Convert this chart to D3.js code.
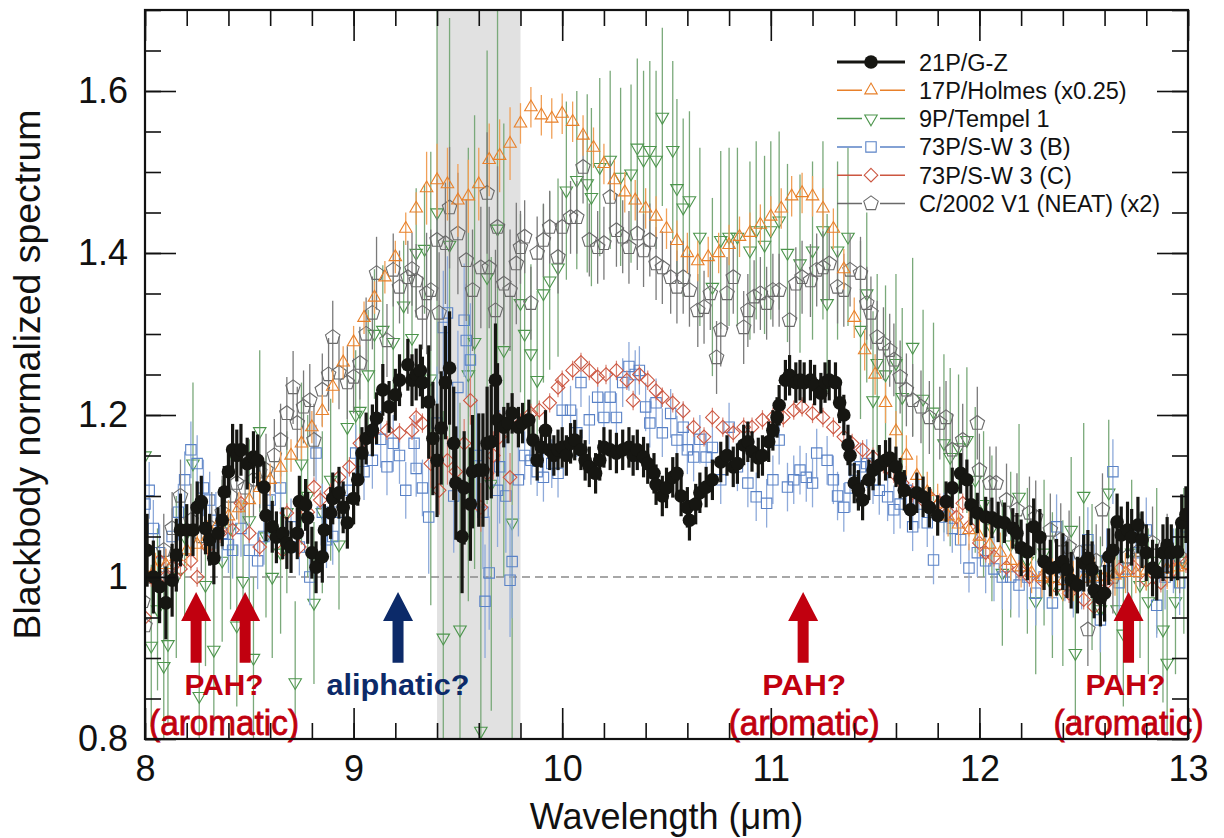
<!DOCTYPE html>
<html>
<head>
<meta charset="utf-8">
<script src="https://cdn.jsdelivr.net/npm/d3@7"></script>
<style>
  html, body { margin: 0; background: #fff; }
  svg { display: block; }
</style>
</head>
<body>
<div id="chart"></div>
<script>
// spectra: [wavelength (um), blackbody-normalized flux]
const gz21 = [[8.01,1.033],[8.04,1.000],[8.07,0.988],[8.10,0.968],[8.13,0.996],[8.15,1.027],[8.17,1.058],[8.20,1.058],[8.23,1.058],[8.25,1.086],[8.27,1.093],[8.29,1.060],[8.31,1.046],[8.33,1.023],[8.35,1.054],[8.37,1.070],[8.38,1.105],[8.40,1.130],[8.42,1.157],[8.44,1.150],[8.46,1.157],[8.49,1.140],[8.52,1.148],[8.54,1.144],[8.57,1.111],[8.58,1.076],[8.61,1.062],[8.63,1.049],[8.66,1.054],[8.68,1.042],[8.70,1.037],[8.73,1.054],[8.74,1.093],[8.77,1.089],[8.78,1.073],[8.80,1.030],[8.82,1.012],[8.85,1.025],[8.86,1.058],[8.89,1.079],[8.90,1.097],[8.93,1.104],[8.95,1.086],[8.97,1.067],[9.00,1.097],[9.02,1.120],[9.04,1.153],[9.06,1.171],[9.09,1.181],[9.11,1.196],[9.14,1.231],[9.17,1.210],[9.20,1.225],[9.22,1.243],[9.26,1.262],[9.28,1.243],[9.30,1.250],[9.32,1.255],[9.33,1.240],[9.36,1.216],[9.38,1.171],[9.40,1.144],[9.42,1.184],[9.44,1.240],[9.46,1.258],[9.48,1.165],[9.49,1.116],[9.52,1.050],[9.53,1.110],[9.56,1.090],[9.57,1.130],[9.60,1.132],[9.62,1.132],[9.64,1.165],[9.66,1.167],[9.68,1.243],[9.69,1.194],[9.72,1.185],[9.74,1.190],[9.76,1.202],[9.79,1.185],[9.81,1.190],[9.84,1.194],[9.86,1.169],[9.88,1.144],[9.90,1.160],[9.92,1.181],[9.94,1.157],[9.96,1.150],[9.98,1.157],[10.00,1.160],[10.02,1.150],[10.04,1.165],[10.06,1.169],[10.09,1.157],[10.11,1.144],[10.13,1.136],[10.16,1.128],[10.18,1.144],[10.20,1.160],[10.23,1.157],[10.26,1.153],[10.29,1.157],[10.32,1.160],[10.34,1.150],[10.36,1.157],[10.39,1.148],[10.41,1.140],[10.44,1.128],[10.45,1.114],[10.48,1.100],[10.50,1.110],[10.53,1.123],[10.55,1.128],[10.57,1.100],[10.60,1.086],[10.61,1.070],[10.64,1.090],[10.66,1.104],[10.69,1.111],[10.72,1.120],[10.76,1.142],[10.79,1.150],[10.82,1.136],[10.84,1.140],[10.87,1.163],[10.89,1.167],[10.91,1.155],[10.94,1.147],[10.96,1.150],[10.99,1.167],[11.01,1.181],[11.03,1.197],[11.04,1.212],[11.07,1.243],[11.09,1.249],[11.12,1.240],[11.14,1.243],[11.16,1.240],[11.19,1.243],[11.21,1.237],[11.24,1.227],[11.26,1.240],[11.28,1.243],[11.31,1.240],[11.33,1.215],[11.35,1.200],[11.37,1.163],[11.38,1.150],[11.40,1.116],[11.42,1.107],[11.44,1.095],[11.47,1.120],[11.49,1.132],[11.52,1.138],[11.55,1.144],[11.57,1.147],[11.60,1.136],[11.62,1.122],[11.64,1.107],[11.67,1.083],[11.70,1.104],[11.73,1.099],[11.76,1.086],[11.80,1.076],[11.84,1.093],[11.87,1.110],[11.91,1.128],[11.94,1.120],[11.96,1.089],[11.99,1.079],[12.03,1.074],[12.06,1.073],[12.09,1.068],[12.12,1.067],[12.16,1.060],[12.18,1.054],[12.20,1.036],[12.23,1.031],[12.26,1.062],[12.29,1.049],[12.31,1.019],[12.34,1.011],[12.37,1.012],[12.40,1.019],[12.42,1.009],[12.44,0.996],[12.47,0.990],[12.50,1.017],[12.52,1.023],[12.54,1.009],[12.55,0.984],[12.58,0.974],[12.60,0.980],[12.62,1.025],[12.64,1.033],[12.66,1.068],[12.68,1.052],[12.71,1.058],[12.73,1.049],[12.76,1.064],[12.78,1.046],[12.80,1.030],[12.83,1.011],[12.85,1.006],[12.88,1.030],[12.90,1.039],[12.92,1.030],[12.95,1.031],[12.97,1.067],[12.99,1.077]];

const holmes17 = [[8.00,1.005],[8.05,1.010],[8.10,1.015],[8.15,1.025],[8.20,1.033],[8.25,1.040],[8.30,1.050],[8.35,1.065],[8.40,1.075],[8.45,1.085],[8.50,1.095],[8.55,1.110],[8.60,1.120],[8.65,1.135],[8.70,1.150],[8.75,1.165],[8.80,1.185],[8.85,1.205],[8.90,1.235],[8.95,1.265],[9.00,1.290],[9.05,1.320],[9.10,1.345],[9.15,1.370],[9.20,1.395],[9.25,1.430],[9.30,1.455],[9.35,1.480],[9.40,1.490],[9.45,1.485],[9.50,1.465],[9.55,1.470],[9.60,1.485],[9.65,1.515],[9.70,1.520],[9.75,1.535],[9.80,1.560],[9.85,1.580],[9.90,1.570],[9.95,1.566],[10.00,1.572],[10.05,1.562],[10.10,1.545],[10.15,1.530],[10.20,1.510],[10.25,1.490],[10.30,1.475],[10.35,1.465],[10.40,1.455],[10.45,1.445],[10.50,1.430],[10.55,1.415],[10.60,1.400],[10.65,1.390],[10.70,1.395],[10.75,1.400],[10.80,1.410],[10.85,1.420],[10.90,1.425],[10.95,1.435],[11.00,1.445],[11.05,1.455],[11.10,1.470],[11.15,1.474],[11.20,1.470],[11.25,1.455],[11.30,1.430],[11.35,1.380],[11.40,1.320],[11.45,1.280],[11.50,1.250],[11.55,1.215],[11.60,1.180],[11.65,1.150],[11.70,1.125],[11.75,1.105],[11.80,1.090],[11.85,1.075],[11.90,1.065],[11.95,1.058],[12.00,1.050],[12.05,1.040],[12.10,1.030],[12.15,1.020],[12.20,1.012],[12.25,1.005],[12.30,1.000],[12.35,0.998],[12.40,0.995],[12.45,0.995],[12.50,0.998],[12.55,1.000],[12.60,1.000],[12.65,1.002],[12.70,1.005],[12.75,1.005],[12.80,1.008],[12.85,1.008],[12.90,1.010],[12.95,1.012],[13.00,1.015]];

const tempel9 = [[8.00,1.150],[8.03,0.915],[8.06,0.960],[8.09,0.890],[8.11,0.917],[8.15,1.000],[8.19,1.050],[8.23,1.140],[8.26,0.853],[8.29,0.990],[8.33,0.910],[8.37,1.020],[8.41,1.060],[8.44,0.940],[8.47,0.995],[8.50,1.070],[8.52,0.900],[8.55,1.180],[8.58,1.050],[8.61,1.000],[8.65,1.030],[8.68,1.080],[8.72,0.870],[8.75,1.140],[8.78,1.100],[8.81,0.968],[8.85,1.080],[8.89,1.120],[8.93,1.040],[8.97,1.185],[9.01,1.200],[9.03,1.205],[9.07,1.250],[9.10,1.300],[9.14,1.305],[9.19,1.290],[9.24,1.335],[9.28,1.295],[9.30,1.400],[9.34,1.405],[9.37,1.245],[9.40,1.450],[9.43,0.925],[9.46,1.410],[9.51,0.935],[9.55,1.250],[9.58,1.290],[9.61,0.810],[9.64,1.370],[9.66,1.115],[9.69,1.430],[9.72,1.280],[9.76,1.067],[9.80,1.338],[9.82,1.300],[9.85,1.276],[9.88,1.243],[9.91,1.350],[9.94,1.366],[9.98,1.382],[10.02,1.477],[10.07,1.490],[10.12,1.486],[10.14,1.469],[10.18,1.506],[10.23,1.515],[10.28,1.494],[10.33,1.498],[10.36,1.530],[10.39,1.515],[10.42,1.527],[10.45,1.515],[10.48,1.568],[10.53,1.527],[10.55,1.480],[10.58,1.456],[10.61,1.465],[10.66,1.420],[10.72,1.358],[10.76,1.416],[10.80,1.420],[10.84,1.420],[10.90,1.403],[10.93,1.428],[10.97,1.410],[11.00,1.428],[11.04,1.440],[11.08,1.400],[11.14,1.387],[11.20,1.403],[11.25,1.428],[11.27,1.338],[11.32,1.403],[11.37,1.420],[11.43,1.305],[11.46,1.350],[11.49,1.218],[11.51,1.264],[11.55,1.250],[11.60,1.264],[11.63,1.222],[11.68,1.284],[11.73,1.220],[11.78,1.204],[11.83,1.165],[11.86,1.148],[11.90,1.160],[11.94,1.169],[11.98,1.120],[12.02,1.090],[12.06,1.060],[12.11,1.005],[12.15,1.040],[12.19,1.099],[12.23,1.020],[12.27,0.970],[12.31,1.030],[12.35,0.990],[12.40,0.980],[12.44,1.058],[12.46,0.906],[12.50,1.100],[12.54,1.000],[12.58,0.960],[12.62,1.104],[12.66,0.960],[12.69,0.930],[12.73,1.030],[12.77,0.990],[12.81,0.970],[12.85,1.020],[12.88,0.935],[12.90,0.894],[12.94,0.970],[12.98,1.020]];

const swB = [[8.00,1.090],[8.02,1.107],[8.04,1.060],[8.07,1.030],[8.10,1.000],[8.13,1.050],[8.16,1.080],[8.19,1.120],[8.22,1.157],[8.25,1.140],[8.28,1.110],[8.31,1.095],[8.34,1.070],[8.37,1.054],[8.40,1.040],[8.42,1.033],[8.46,1.060],[8.50,1.033],[8.54,1.020],[8.57,1.050],[8.60,1.095],[8.65,1.110],[8.70,1.062],[8.74,1.037],[8.79,1.000],[8.82,1.153],[8.85,1.080],[8.87,1.046],[8.90,1.050],[8.93,1.080],[8.97,1.107],[9.01,1.153],[9.05,1.130],[9.09,1.144],[9.13,1.170],[9.16,1.136],[9.19,1.165],[9.22,1.150],[9.25,1.107],[9.29,1.165],[9.30,1.134],[9.33,1.110],[9.36,1.074],[9.40,1.190],[9.43,1.308],[9.45,1.326],[9.48,1.100],[9.50,1.234],[9.53,1.317],[9.54,1.292],[9.56,1.268],[9.59,1.150],[9.62,1.080],[9.63,0.970],[9.65,1.005],[9.69,1.107],[9.70,1.136],[9.73,1.100],[9.75,0.996],[9.76,1.019],[9.79,1.120],[9.82,1.150],[9.85,1.144],[9.88,1.130],[9.91,1.123],[9.95,1.140],[9.98,1.128],[10.00,1.206],[10.04,1.206],[10.07,1.178],[10.09,1.240],[10.13,1.194],[10.17,1.222],[10.20,1.197],[10.23,1.222],[10.26,1.197],[10.29,1.240],[10.32,1.260],[10.35,1.250],[10.37,1.255],[10.40,1.210],[10.42,1.190],[10.45,1.215],[10.48,1.178],[10.52,1.202],[10.55,1.169],[10.58,1.185],[10.60,1.157],[10.63,1.148],[10.66,1.170],[10.69,1.148],[10.72,1.160],[10.76,1.120],[10.80,1.185],[10.84,1.136],[10.89,1.116],[10.93,1.099],[10.98,1.091],[11.01,1.120],[11.04,1.169],[11.08,1.111],[11.11,1.120],[11.14,1.132],[11.17,1.123],[11.20,1.116],[11.22,1.153],[11.27,1.144],[11.30,1.120],[11.32,1.100],[11.35,1.086],[11.38,1.110],[11.40,1.132],[11.43,1.136],[11.46,1.140],[11.49,1.120],[11.52,1.107],[11.56,1.099],[11.59,1.083],[11.62,1.090],[11.65,1.107],[11.68,1.062],[11.71,1.090],[11.75,1.067],[11.78,1.021],[11.83,1.074],[11.87,1.060],[11.91,1.046],[11.95,1.011],[11.99,1.030],[12.03,1.020],[12.07,1.010],[12.11,1.000],[12.15,1.000],[12.19,0.990],[12.23,1.000],[12.27,0.980],[12.31,1.000],[12.35,0.968],[12.37,1.062],[12.41,1.010],[12.45,0.990],[12.49,1.000],[12.52,1.046],[12.55,1.000],[12.58,0.947],[12.61,1.020],[12.64,1.130],[12.67,0.993],[12.71,1.010],[12.75,1.030],[12.80,1.058],[12.85,0.965],[12.89,1.000],[12.93,1.020],[12.96,0.993],[12.99,1.062]];

const swC = [[8.00,0.950],[8.03,1.000],[8.07,1.020],[8.10,1.000],[8.13,1.012],[8.17,1.010],[8.22,1.020],[8.25,1.000],[8.30,1.037],[8.36,1.054],[8.42,1.058],[8.46,1.091],[8.50,1.054],[8.55,1.037],[8.61,1.054],[8.66,1.033],[8.68,1.079],[8.74,1.037],[8.78,1.080],[8.81,1.111],[8.84,1.095],[8.89,1.104],[8.93,1.123],[8.98,1.136],[9.03,1.165],[9.09,1.178],[9.16,1.181],[9.22,1.178],[9.28,1.181],[9.30,1.197],[9.33,1.190],[9.37,1.140],[9.41,1.107],[9.45,1.144],[9.49,1.130],[9.53,1.165],[9.56,1.218],[9.61,1.086],[9.64,1.128],[9.67,1.150],[9.70,1.173],[9.75,1.123],[9.80,1.190],[9.85,1.202],[9.89,1.206],[9.94,1.215],[9.98,1.234],[10.00,1.243],[10.05,1.255],[10.09,1.265],[10.13,1.255],[10.17,1.247],[10.21,1.250],[10.26,1.255],[10.31,1.243],[10.34,1.218],[10.37,1.250],[10.41,1.243],[10.45,1.230],[10.48,1.222],[10.53,1.215],[10.58,1.205],[10.63,1.185],[10.68,1.173],[10.72,1.197],[10.77,1.185],[10.82,1.178],[10.87,1.185],[10.91,1.185],[10.96,1.194],[11.01,1.197],[11.06,1.197],[11.11,1.206],[11.15,1.210],[11.20,1.202],[11.25,1.197],[11.30,1.185],[11.35,1.173],[11.39,1.165],[11.44,1.157],[11.49,1.148],[11.54,1.140],[11.59,1.128],[11.63,1.116],[11.68,1.104],[11.73,1.095],[11.77,1.097],[11.81,1.091],[11.85,1.080],[11.89,1.074],[11.92,1.091],[11.95,1.062],[12.00,1.042],[12.03,1.030],[12.07,1.025],[12.13,1.012],[12.19,1.009],[12.24,1.000],[12.30,0.996],[12.37,0.988],[12.43,0.980],[12.50,0.972],[12.55,0.963],[12.61,0.993],[12.67,1.009],[12.74,1.012],[12.80,0.996],[12.87,0.993],[12.93,1.009],[12.99,1.017]];

const neat = [[7.99,0.970],[8.00,0.940],[8.04,1.000],[8.09,1.033],[8.13,1.060],[8.17,1.100],[8.22,1.070],[8.27,1.050],[8.32,1.060],[8.37,1.080],[8.41,1.100],[8.44,1.116],[8.48,1.110],[8.52,1.120],[8.55,1.130],[8.58,1.132],[8.62,1.150],[8.65,1.169],[8.68,1.202],[8.71,1.234],[8.73,1.190],[8.76,1.210],[8.79,1.218],[8.81,1.169],[8.85,1.231],[8.88,1.250],[8.90,1.296],[8.93,1.252],[8.97,1.240],[9.00,1.247],[9.03,1.264],[9.06,1.300],[9.09,1.326],[9.11,1.375],[9.16,1.292],[9.19,1.379],[9.22,1.358],[9.26,1.370],[9.28,1.380],[9.30,1.366],[9.33,1.326],[9.35,1.350],[9.37,1.354],[9.40,1.416],[9.41,1.326],[9.44,1.412],[9.46,1.456],[9.50,1.424],[9.54,1.391],[9.57,1.354],[9.61,1.382],[9.64,1.474],[9.65,1.382],[9.68,1.329],[9.69,1.432],[9.72,1.362],[9.75,1.354],[9.78,1.387],[9.80,1.407],[9.82,1.420],[9.85,1.338],[9.88,1.400],[9.91,1.416],[9.94,1.432],[9.98,1.395],[10.00,1.432],[10.04,1.444],[10.07,1.444],[10.10,1.506],[10.13,1.416],[10.17,1.407],[10.20,1.412],[10.23,1.469],[10.26,1.428],[10.29,1.420],[10.32,1.407],[10.36,1.424],[10.39,1.403],[10.42,1.416],[10.45,1.387],[10.48,1.382],[10.52,1.370],[10.55,1.358],[10.58,1.370],[10.61,1.354],[10.65,1.329],[10.68,1.333],[10.71,1.350],[10.74,1.271],[10.76,1.305],[10.79,1.350],[10.82,1.370],[10.87,1.308],[10.89,1.329],[10.92,1.346],[10.95,1.350],[10.98,1.338],[11.01,1.354],[11.04,1.354],[11.09,1.317],[11.12,1.362],[11.15,1.370],[11.19,1.366],[11.22,1.379],[11.25,1.382],[11.28,1.387],[11.32,1.358],[11.35,1.354],[11.38,1.379],[11.43,1.375],[11.46,1.338],[11.48,1.326],[11.51,1.296],[11.54,1.288],[11.57,1.280],[11.59,1.268],[11.62,1.247],[11.65,1.231],[11.68,1.218],[11.72,1.210],[11.76,1.197],[11.81,1.190],[11.84,1.197],[11.87,1.157],[11.92,1.169],[11.99,1.190],[12.00,1.132],[12.05,1.116],[12.08,1.116],[12.13,1.095],[12.18,1.083],[12.24,1.079],[12.27,1.074],[12.34,1.058],[12.39,1.046],[12.43,1.037],[12.48,1.030],[12.52,0.935],[12.56,1.020],[12.59,1.083],[12.64,1.000],[12.71,1.025],[12.77,1.033],[12.83,1.042],[12.90,1.033],[12.96,1.025]];

// 1-sigma error read per wavelength range: [from, to, err]
const gz21Err = [[7.9,8.2,0.045],[8.2,9.35,0.032],[9.35,9.7,0.07],[9.7,12.2,0.025],[12.2,13.1,0.035]];
const holmes17Err = [[7.9,9.35,0.02],[9.35,9.8,0.045],[9.8,13.1,0.025]];
const tempel9Err = [[7.9,8.9,0.10],[8.9,9.35,0.08],[9.35,9.8,0.28],[9.8,11.9,0.11],[11.9,13.1,0.09]];
const swBErr = [[7.9,9.35,0.035],[9.35,9.8,0.07],[9.8,12.0,0.03],[12.0,13.1,0.04]];
const swCErr = [[7.9,9.35,0.012],[9.35,9.8,0.03],[9.8,13.1,0.012]];
const neatErr = [[7.9,9.35,0.045],[9.35,9.8,0.075],[9.8,13.1,0.045]];

const xTicks = [8, 9, 10, 11, 12, 13];
const yTicks = [0.8, 1, 1.2, 1.4, 1.6];
const ozoneBand = [9.4, 9.8];

// band arrows and their labels, in data units
const RED = '#c1000f', NAVY = '#0c2a69';
const arrows = [
  { wl: 8.245, tip: 0.9815, tail: 0.894, color: RED },
  { wl: 8.48, tip: 0.9815, tail: 0.894, color: RED },
  { wl: 9.213, tip: 0.9815, tail: 0.894, color: NAVY },
  { wl: 11.155, tip: 0.9815, tail: 0.894, color: RED },
  { wl: 12.715, tip: 0.9815, tail: 0.894, color: RED }
];
const notes = [
  { wl: 8.379, flux: 0.8544, text: 'PAH?', color: RED, size: 29, bold: true, len: 79 },
  { wl: 8.379, flux: 0.8055, text: '(aromatic)', color: RED, size: 35, bold: false, len: 150 },
  { wl: 9.213, flux: 0.8544, text: 'aliphatic?', color: NAVY, size: 30, bold: true, len: 143 },
  { wl: 11.16, flux: 0.8544, text: 'PAH?', color: RED, size: 30, bold: true, len: 84 },
  { wl: 11.16, flux: 0.8055, text: '(aromatic)', color: RED, size: 35, bold: false, len: 151 },
  { wl: 12.70, flux: 0.8544, text: 'PAH?', color: RED, size: 29, bold: true, len: 80 },
  { wl: 12.715, flux: 0.8055, text: '(aromatic)', color: RED, size: 35, bold: false, len: 150 }
];

const FONT = '"Liberation Sans", Arial, Helvetica, sans-serif';
const W = 1224, H = 838;
const M = { left: 145, right: 1188, top: 10, bottom: 739 };

const series = {
  gz21:     { name: '21P/G-Z',              data: gz21,     err: gz21Err,     shape: 'circle',   color: '#161612', errColor: '#161612', errW: 3.2 },
  holmes17: { name: '17P/Holmes (x0.25)',   data: holmes17, err: holmes17Err, shape: 'triUp',    color: '#e8802a', errColor: '#f0a058', errW: 1.3 },
  tempel9:  { name: '9P/Tempel 1',          data: tempel9,  err: tempel9Err,  shape: 'triDown',  color: '#4c954c', errColor: '#7aa97a', errW: 1.3 },
  swB:      { name: '73P/S-W 3 (B)',        data: swB,      err: swBErr,      shape: 'square',   color: '#5a82c6', errColor: '#8eaada', errW: 1.3 },
  swC:      { name: '73P/S-W 3 (C)',        data: swC,      err: swCErr,      shape: 'diamond',  color: '#cc5640', errColor: '#d98070', errW: 1.2 },
  neat:     { name: 'C/2002 V1 (NEAT) (x2)',data: neat,     err: neatErr,     shape: 'pentagon', color: '#6a6a6a', errColor: '#7a7a7a', errW: 1.3 }
};
const drawOrder = ['tempel9', 'swB', 'neat', 'swC', 'holmes17', 'gz21'];
const legendOrder = ['gz21', 'holmes17', 'tempel9', 'swB', 'swC', 'neat'];

const x = d3.scaleLinear().domain([8, 13]).range([M.left, M.right]);
const y = d3.scaleLinear().domain([0.8, 1.7]).range([M.bottom, M.top]);

function errAt(bands, wl) {
  const b = bands.find(b => wl >= b[0] && wl < b[1]);
  return b ? b[2] : 0;
}

function shapePath(kind) {
  if (kind === 'triUp' || kind === 'triDown') {
    const a = 12.5, h = a * Math.sqrt(3) / 2, s = kind === 'triUp' ? 1 : -1;
    return `M0,${-s * 2 * h / 3}L${a / 2},${s * h / 3}L${-a / 2},${s * h / 3}Z`;
  }
  if (kind === 'square') return 'M-5.2,-5.2H5.2V5.2H-5.2Z';
  if (kind === 'diamond') return 'M0,-6.8L6.8,0L0,6.8L-6.8,0Z';
  if (kind === 'pentagon') {
    const r = 7.6;
    return d3.range(5).map(i => {
      const a = -Math.PI / 2 + i * 2 * Math.PI / 5;
      return (i ? 'L' : 'M') + (r * Math.cos(a)).toFixed(2) + ',' + (r * Math.sin(a)).toFixed(2);
    }).join('') + 'Z';
  }
  return '';
}

function drawMarker(sel, s) {
  if (s.shape === 'circle') {
    sel.append('circle').attr('r', 6.8).attr('fill', s.color);
  } else {
    sel.append('path').attr('d', shapePath(s.shape))
      .attr('fill', 'none').attr('stroke', s.color).attr('stroke-width', 1.1);
  }
}

const svg = d3.select('#chart').append('svg')
  .attr('width', W).attr('height', H)
  .style('font-family', FONT);

svg.append('defs').append('clipPath').attr('id', 'plot-clip')
  .append('rect')
  .attr('x', M.left).attr('y', M.top)
  .attr('width', M.right - M.left).attr('height', M.bottom - M.top);

// telluric ozone band
svg.append('rect')
  .attr('x', x(ozoneBand[0])).attr('y', M.top)
  .attr('width', x(ozoneBand[1]) - x(ozoneBand[0]))
  .attr('height', M.bottom - M.top)
  .attr('fill', '#e1e1e1');

// unity line
svg.append('line')
  .attr('x1', M.left).attr('x2', M.right)
  .attr('y1', y(1)).attr('y2', y(1))
  .attr('stroke', '#8a8a8a').attr('stroke-width', 1.6).attr('stroke-dasharray', '8,5');

const plotG = svg.append('g').attr('clip-path', 'url(#plot-clip)');

for (const key of drawOrder) {
  const s = series[key];
  const g = plotG.append('g').attr('class', 'series-' + key);
  g.selectAll('line.err').data(s.data).join('line')
    .attr('class', 'err')
    .attr('x1', d => x(d[0])).attr('x2', d => x(d[0]))
    .attr('y1', d => y(d[1] - errAt(s.err, d[0])))
    .attr('y2', d => y(d[1] + errAt(s.err, d[0])))
    .attr('stroke', s.errColor).attr('stroke-width', s.errW);
  g.selectAll('g.pt').data(s.data).join('g')
    .attr('class', 'pt')
    .attr('transform', d => `translate(${x(d[0])},${y(d[1])})`)
    .each(function () { drawMarker(d3.select(this), s); });
}

// arrows
const annG = svg.append('g');
for (const a of arrows) {
  const cx = x(a.wl), yt = y(a.tip), yb = y(a.tail);
  const headH = 29, headW = 15, shaft = 5.5;
  annG.append('path')
    .attr('d', `M${cx},${yt}L${cx + headW},${yt + headH}L${cx + shaft},${yt + headH}L${cx + shaft},${yb}` +
      `L${cx - shaft},${yb}L${cx - shaft},${yt + headH}L${cx - headW},${yt + headH}Z`)
    .attr('fill', a.color);
}
for (const n of notes) {
  annG.append('text')
    .attr('x', x(n.wl)).attr('y', y(n.flux))
    .attr('text-anchor', 'middle')
    .attr('font-size', n.size)
    .attr('font-weight', n.bold ? 'bold' : 'normal')
    .attr('textLength', n.len).attr('lengthAdjust', 'spacingAndGlyphs')
    .attr('fill', n.color)
    .attr('stroke', n.bold ? 'none' : n.color).attr('stroke-width', n.bold ? 0 : 0.8)
    .text(n.text);
}

// axes: major and minor ticks pointing inward on all four sides
const xMinor = d3.range(8, 13.001, 0.2).map(v => +v.toFixed(2));
const yMinor = d3.range(0.8, 1.7001, 0.05).map(v => +v.toFixed(2));
const fmt = v => String(+v.toFixed(1));

function styleAxis(g) {
  g.select('.domain').remove();
  g.selectAll('.tick line').attr('stroke', '#111').attr('stroke-width', 1.6);
  g.selectAll('.tick text').attr('fill', '#111').attr('font-size', 36).attr('font-family', FONT);
}

svg.append('g').attr('transform', `translate(0,${M.bottom})`)
  .call(d3.axisBottom(x).tickValues(xMinor).tickSize(-16).tickFormat('')).call(styleAxis);
svg.append('g').attr('transform', `translate(0,${M.bottom})`)
  .call(d3.axisBottom(x).tickValues(xTicks).tickSize(-31).tickPadding(16).tickFormat(fmt)).call(styleAxis);
svg.append('g').attr('transform', `translate(0,${M.top})`)
  .call(d3.axisTop(x).tickValues(xMinor).tickSize(-16).tickFormat('')).call(styleAxis);
svg.append('g').attr('transform', `translate(0,${M.top})`)
  .call(d3.axisTop(x).tickValues(xTicks).tickSize(-31).tickFormat('')).call(styleAxis);

svg.append('g').attr('transform', `translate(${M.left},0)`)
  .call(d3.axisLeft(y).tickValues(yMinor).tickSize(-16).tickFormat('')).call(styleAxis);
svg.append('g').attr('transform', `translate(${M.left},0)`)
  .call(d3.axisLeft(y).tickValues(yTicks).tickSize(-31).tickPadding(17).tickFormat(fmt)).call(styleAxis);
svg.append('g').attr('transform', `translate(${M.right},0)`)
  .call(d3.axisRight(y).tickValues(yMinor).tickSize(-16).tickFormat('')).call(styleAxis);
svg.append('g').attr('transform', `translate(${M.right},0)`)
  .call(d3.axisRight(y).tickValues(yTicks).tickSize(-31).tickFormat('')).call(styleAxis);

// frame
svg.append('rect')
  .attr('x', M.left).attr('y', M.top)
  .attr('width', M.right - M.left).attr('height', M.bottom - M.top)
  .attr('fill', 'none').attr('stroke', '#111').attr('stroke-width', 2.2);

// axis titles
svg.append('text')
  .attr('x', (M.left + M.right) / 2).attr('y', 829)
  .attr('text-anchor', 'middle').attr('font-size', 36).attr('fill', '#111')
  .text('Wavelength (μm)');
svg.append('text')
  .attr('transform', `translate(40,${(M.top + M.bottom) / 2}) rotate(-90)`)
  .attr('text-anchor', 'middle').attr('font-size', 36).attr('fill', '#111')
  .attr('textLength', 530).attr('lengthAdjust', 'spacingAndGlyphs')
  .text('Blackbody normalized spectrum');

// legend
const legG = svg.append('g').attr('transform', 'translate(837,62)');
legendOrder.forEach((key, i) => {
  const s = series[key];
  const row = legG.append('g').attr('transform', `translate(0,${i * 28.3})`);
  row.append('line').attr('x1', 0).attr('x2', 68).attr('y1', 0).attr('y2', 0)
    .attr('stroke', s.color).attr('stroke-width', key === 'gz21' ? 3 : 1.5);
  const m = row.append('g').attr('transform', 'translate(34,0)');
  if (key !== 'gz21') m.append('rect').attr('x', -9).attr('y', -9).attr('width', 18).attr('height', 18).attr('fill', '#fff');
  drawMarker(m, s);
  row.append('text').attr('x', 82).attr('y', 8.5)
    .attr('font-size', 23.5).attr('fill', '#111')
    .text(s.name);
});
</script>
</body>
</html>
